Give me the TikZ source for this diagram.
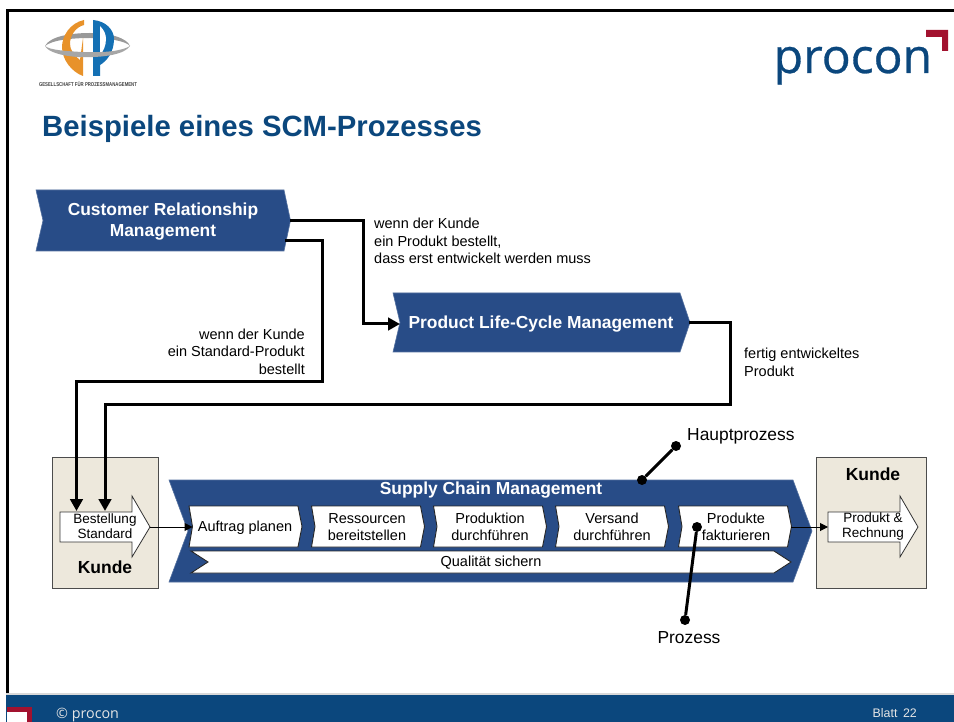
\documentclass[tikz,border=0pt]{standalone}
\usepackage{fontspec}
\setmainfont{Liberation Sans}
\newfontfamily\logofont[FakeBold=0.6]{Open Sans}
\newfontfamily\footfont{Open Sans}
\usetikzlibrary{arrows.meta}
\definecolor{gpblue}{HTML}{284C87}
\definecolor{footblue}{HTML}{0B477D}
\definecolor{procred}{HTML}{A2122F}
\definecolor{kundefill}{HTML}{EDE8DC}
\definecolor{gporange}{HTML}{E8922A}
\definecolor{gplogoblue}{HTML}{1470B4}
\newcommand{\fs}[1]{\fontsize{#1}{#1}\selectfont}
\tikzset{
  x=1pt,y=-1pt,
  lbl/.style={inner sep=0pt,font=\fs{14.5},align=left,text=black},
  lblr/.style={inner sep=0pt,font=\fs{14.5},align=right,text=black},
  proc/.style={fill=gpblue,draw=gpblue!80!white,line width=.6pt},
  head/.style={inner sep=0pt,font=\fs{17.4}\bfseries,text=white,align=center},
  kbox/.style={fill=kundefill,draw=black!70,line width=1pt},
  stepshape/.style={fill=white,draw=black!85,line width=.9pt},
  steplbl/.style={inner sep=0pt,font=\fs{14.5},align=center,text=black},
  smalllbl/.style={inner sep=0pt,font=\fs{13.5},align=center,text=black},
  kundelbl/.style={inner sep=0pt,font=\fs{17.5}\bfseries,text=black},
  flow/.style={draw=black,line width=3pt,line join=miter,-{Triangle[width=12.5pt,length=12pt]}},
  thin arrow/.style={draw=black,line width=1pt,-{Triangle[width=8pt,length=8pt]}},
  pointer/.style={draw=black,line width=3pt},
  dot/.style={circle,fill=black,inner sep=0pt,minimum size=10pt},
}
\begin{document}
\begin{tikzpicture}
\useasboundingbox (0,0) rectangle (954,722);
\fill[white] (0,0) rectangle (954,722);
% frame
\draw[black,line width=3pt] (954,10.5) -- (7.5,10.5) -- (7.5,694);
% footer
\fill[footblue] (6,694) rectangle (954,722);
\fill[black!15!white] (6,693) rectangle (954,694.5);
\fill[procred] (7,707) rectangle (32,722);
\fill[white] (7,712) rectangle (27,722);
\node[inner sep=0pt,anchor=base west,font=\footfont\fs{14.3},text=white!90!black] (copy) at (56,718) {© procon};
\node[inner sep=0pt,anchor=base east,font=\fs{12.4},text=white!90!black] (blatt) at (917,717) {Blatt\, 22};
% GP logo: back half of the ring
\fill[black!40] (45,46) .. controls (50,36) and (72,33) .. (90,33) .. controls (110,33) and (127,38) .. (130,46) .. controls (126,41) and (108,38) .. (90,38) .. controls (72,38) and (52,40) .. (45,46) -- cycle;
\fill[gporange] (84,20) .. controls (70,23) and (62,36) .. (62,47) .. controls (62,60) and (72,72) .. (83,76) -- (83,38) -- (80,60) .. controls (74,55) and (70,50) .. (70,44) .. controls (70,35) and (76,27) .. (84,25) -- cycle;
\fill[gplogoblue] (93,20) .. controls (106,21) and (114,30) .. (114,39) .. controls (114,52) and (107,61) .. (100,65) -- (100,76) -- (93,76) -- cycle;
\fill[white] (100,26) .. controls (104,30) and (106,34) .. (106,39) .. controls (106,46) and (103,52) .. (100,55) -- cycle;
% GP logo: front half of the ring
\fill[black!35] (45,46) .. controls (48,52) and (62,56) .. (78,57) .. controls (105,58) and (125,54) .. (130,46) .. controls (122,51) and (104,53) .. (82,52) .. controls (64,51) and (50,50) .. (45,46) -- cycle;
\node[inner sep=0pt,font=\fs{5.6}\bfseries,text=black!75] (gptext) at (88,84) {\scalebox{.77}[1]{GESELLSCHAFT FÜR PROZESSMANAGEMENT}};
% procon logo
\node[inner sep=0pt,anchor=base west,font=\logofont\fs{48},text=footblue] (procon) at (773.5,73) {procon};
\fill[procred] (926,30) -- (948,30) -- (948,51) -- (942,51) -- (942,37) -- (926,37) -- cycle;
% title
\node[inner sep=0pt,anchor=base west,font=\fs{29.3}\bfseries,text=footblue] (title) at (42,137) {Beispiele eines SCM-Prozesses};
% CRM
\path[proc] (36,190) -- (284,190) -- (290.5,220.5) -- (284,251) -- (36,251) -- (43,220.5) -- cycle;
\coordinate (crmA) at (290,220.5);
\coordinate (crmB) at (285,241);
\node[head] (crm) at (163,221.5) {Customer Relationship\\[3.5pt]Management};
% PLM
\path[proc] (393,293) -- (680,293) -- (690,322.5) -- (680,352) -- (393,352) -- (400,322.5) -- cycle;
\coordinate (plmIn) at (400,324);
\coordinate (plmOut) at (689,322.5);
\node[head] (plm) at (541,324) {Product Life-Cycle Management};
% Kunde boxes
\path[kbox] (52,457.5) rectangle (158,588);
\path[kbox] (816,457.5) rectangle (926,588);
\node[kundelbl] (kundeL) at (105,567) {Kunde};
\node[kundelbl] (kundeR) at (873,474) {Kunde};
% Kunde arrows
\path[fill=white,draw=black!80,line width=.8pt] (60,512) -- (132,512) -- (132,496) -- (150,527) -- (132,557) -- (132,542) -- (60,542) -- cycle;
\coordinate (bestIn1) at (76.5,511);
\coordinate (bestIn2) at (105,511);
\coordinate (bestOut) at (150,527);
\node[smalllbl] (best) at (105,526) {Bestellung\\[1.5pt]Standard};
\path[fill=white,draw=black!80,line width=.8pt] (828,512) -- (900,512) -- (900,496) -- (918,527) -- (900,557) -- (900,542) -- (828,542) -- cycle;
\coordinate (prodIn) at (828,527);
\node[smalllbl] (prod) at (873,527) {Produkt \&\\[1.5pt]Rechnung};
% SCM
\path[proc] (169,480) -- (793,480) -- (812,531) -- (793,582) -- (169,582) -- (188,531) -- cycle;
\node[head] (scm) at (491,490) {Supply Chain Management};
% steps
\foreach \a/\n in {189/a,311.5/b,433.5/c,555.5/d,678.5/e}{
  \path[stepshape] (\a,506) -- ({\a+109},506) -- ({\a+113},526.5) -- ({\a+109},547) -- (\a,547) -- ({\a+3.5},526.5) -- cycle;
}
\coordinate (aIn) at (192.5,527);
\coordinate (eOut) at (791,527);
\node[steplbl] (s1) at (245,527.5) {Auftrag planen};
\node[steplbl] (s2) at (367,527.5) {Ressourcen\\[2.5pt]bereitstellen};
\node[steplbl] (s3) at (490,526.5) {Produktion\\[2.5pt]durchführen};
\node[steplbl] (s4) at (612,526.5) {Versand\\[2.5pt]durchführen};
\node[steplbl] (s5) at (736,526.5) {Produkte\\[2.5pt]fakturieren};
% quality bar
\path[stepshape] (191,551) -- (774,551) -- (791,562) -- (774,573) -- (191,573) -- (208,562) -- cycle;
\node[steplbl] (q) at (491,562.5) {Qualität sichern};
% connectors
\draw[thin arrow] (bestOut) -- (aIn);
\draw[thin arrow] (eOut) -- (prodIn);
\draw[flow] (crmA) -- (363,220.5) -- (363,324) -- (plmIn);
\draw[flow] (crmB) -- (322,241) -- (322,381) -- (76.5,381) -- (bestIn1);
\draw[flow] (plmOut) -- (730,322.5) -- (730,404) -- (105,404) -- (bestIn2);
% labels
\node[lbl,anchor=north west] (l1) at (374,218) {wenn der Kunde\\[3pt]ein Produkt bestellt,\\[3pt]dass erst entwickelt werden muss};
\node[lblr,anchor=north east] (l2) at (305,328.5) {wenn der Kunde\\[3pt]ein Standard-Produkt\\[3pt]bestellt};
\node[lbl,anchor=north west] (l3) at (744,348) {fertig entwickeltes\\[3pt]Produkt};
% pointers
\node[dot] (d1) at (642,480) {};
\node[dot] (d2) at (676,446) {};
\draw[pointer] (d1) -- (d2);
\node[dot] (d3) at (697,527) {};
\node[dot] (d4) at (685,620) {};
\draw[pointer] (d3) -- (d4);
\node[inner sep=0pt,anchor=west,font=\fs{17.4}] (haupt) at (687,436.5) {Hauptprozess};
\node[inner sep=0pt,font=\fs{17.4}] (prozess) at (689,637.5) {Prozess};
\end{tikzpicture}
\end{document}
